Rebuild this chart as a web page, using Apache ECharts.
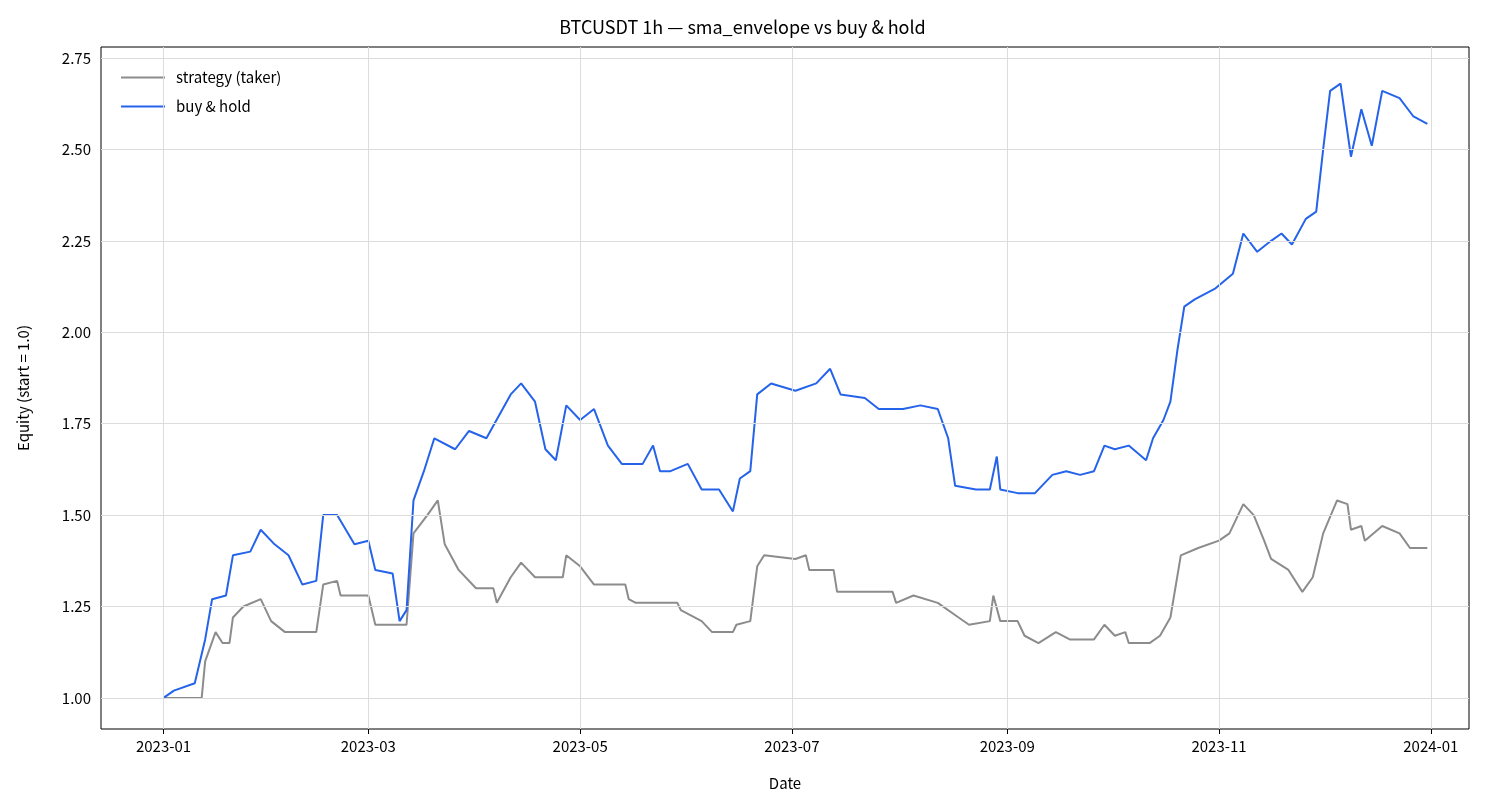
<!DOCTYPE html>
<html>
<head>
<meta charset="utf-8">
<script src="https://cdn.jsdelivr.net/npm/echarts@6/dist/echarts.min.js"></script>
<style>html,body{margin:0;padding:0;background:#fff}#chart{width:1485px;height:810px}</style>
</head>
<body>
<div id="chart"></div>
<script>
// 数据
var holdDates = ['2023-01-01','2023-01-04','2023-01-10','2023-01-13','2023-01-15','2023-01-19','2023-01-21','2023-01-26','2023-01-29','2023-02-02','2023-02-06','2023-02-10','2023-02-14','2023-02-16','2023-02-20','2023-02-25','2023-03-01','2023-03-03','2023-03-08','2023-03-10','2023-03-12','2023-03-14','2023-03-17','2023-03-20','2023-03-26','2023-03-30','2023-04-04','2023-04-11','2023-04-14','2023-04-18','2023-04-21','2023-04-24','2023-04-27','2023-05-01','2023-05-05','2023-05-09','2023-05-13','2023-05-19','2023-05-22','2023-05-24','2023-05-27','2023-06-01','2023-06-05','2023-06-10','2023-06-14','2023-06-16','2023-06-19','2023-06-21','2023-06-25','2023-07-02','2023-07-08','2023-07-12','2023-07-15','2023-07-22','2023-07-26','2023-08-02','2023-08-07','2023-08-12','2023-08-15','2023-08-17','2023-08-23','2023-08-27','2023-08-29','2023-08-30','2023-09-04','2023-09-09','2023-09-14','2023-09-18','2023-09-22','2023-09-26','2023-09-29','2023-10-02','2023-10-06','2023-10-11','2023-10-13','2023-10-16','2023-10-18','2023-10-20','2023-10-22','2023-10-25','2023-10-31','2023-11-05','2023-11-08','2023-11-12','2023-11-16','2023-11-19','2023-11-22','2023-11-26','2023-11-29','2023-12-01','2023-12-03','2023-12-06','2023-12-09','2023-12-12','2023-12-15','2023-12-18','2023-12-23','2023-12-27','2023-12-31'];
var holdValues = [1.00,1.02,1.04,1.16,1.27,1.28,1.39,1.40,1.46,1.42,1.39,1.31,1.32,1.50,1.50,1.42,1.43,1.35,1.34,1.21,1.24,1.54,1.62,1.71,1.68,1.73,1.71,1.83,1.86,1.81,1.68,1.65,1.80,1.76,1.79,1.69,1.64,1.64,1.69,1.62,1.62,1.64,1.57,1.57,1.51,1.60,1.62,1.83,1.86,1.84,1.86,1.90,1.83,1.82,1.79,1.79,1.80,1.79,1.71,1.58,1.57,1.57,1.66,1.57,1.56,1.56,1.61,1.62,1.61,1.62,1.69,1.68,1.69,1.65,1.71,1.76,1.81,1.95,2.07,2.09,2.12,2.16,2.27,2.22,2.25,2.27,2.24,2.31,2.33,2.50,2.66,2.68,2.48,2.61,2.51,2.66,2.64,2.59,2.57];

var stratDates = ['2023-01-01','2023-01-12','2023-01-13','2023-01-16','2023-01-18','2023-01-20','2023-01-21','2023-01-24','2023-01-29','2023-02-01','2023-02-05','2023-02-14','2023-02-16','2023-02-20','2023-02-21','2023-03-01','2023-03-03','2023-03-12','2023-03-14','2023-03-18','2023-03-21','2023-03-23','2023-03-27','2023-04-01','2023-04-06','2023-04-07','2023-04-11','2023-04-14','2023-04-18','2023-04-26','2023-04-27','2023-05-01','2023-05-05','2023-05-14','2023-05-15','2023-05-17','2023-05-29','2023-05-30','2023-06-05','2023-06-08','2023-06-14','2023-06-15','2023-06-19','2023-06-21','2023-06-23','2023-07-02','2023-07-05','2023-07-06','2023-07-13','2023-07-14','2023-07-30','2023-07-31','2023-08-05','2023-08-12','2023-08-18','2023-08-21','2023-08-27','2023-08-28','2023-08-30','2023-09-04','2023-09-06','2023-09-10','2023-09-15','2023-09-19','2023-09-26','2023-09-29','2023-10-02','2023-10-05','2023-10-06','2023-10-12','2023-10-15','2023-10-18','2023-10-21','2023-10-26','2023-11-01','2023-11-04','2023-11-08','2023-11-11','2023-11-14','2023-11-16','2023-11-21','2023-11-25','2023-11-28','2023-12-01','2023-12-05','2023-12-08','2023-12-09','2023-12-12','2023-12-13','2023-12-18','2023-12-23','2023-12-26','2023-12-31'];
var stratValues = [1.00,1.00,1.10,1.18,1.15,1.15,1.22,1.25,1.27,1.21,1.18,1.18,1.31,1.32,1.28,1.28,1.20,1.20,1.45,1.50,1.54,1.42,1.35,1.30,1.30,1.26,1.33,1.37,1.33,1.33,1.39,1.36,1.31,1.31,1.27,1.26,1.26,1.24,1.21,1.18,1.18,1.20,1.21,1.36,1.39,1.38,1.39,1.35,1.35,1.29,1.29,1.26,1.28,1.26,1.22,1.20,1.21,1.28,1.21,1.21,1.17,1.15,1.18,1.16,1.16,1.20,1.17,1.18,1.15,1.15,1.17,1.22,1.39,1.41,1.43,1.45,1.53,1.50,1.43,1.38,1.35,1.29,1.33,1.45,1.54,1.53,1.46,1.47,1.43,1.47,1.45,1.41,1.41];

var xTickLabels = ['2023-01','2023-03','2023-05','2023-07','2023-09','2023-11','2024-01'];
var yTicks = [1.00,1.25,1.50,1.75,2.00,2.25,2.50,2.75];

var t0 = Date.UTC(2023,0,1);
function toDay(s){ var p=s.split('-'); return (Date.UTC(+p[0],+p[1]-1,+(p[2]||1))-t0)/86400000; }
function pairs(d,v){ return d.map(function(s,i){ return [toDay(s), v[i]]; }); }
var xTicks = xTickLabels.map(toDay);
var labelMap = {};
xTicks.forEach(function(d,i){ labelMap[d]=xTickLabels[i]; });

var font = 'Noto Sans CJK KR, DejaVu Sans, sans-serif';
var gridStyle = {color:'#dcdcdc', width:1, type:'solid'};

var chart = echarts.init(document.getElementById('chart'));
var option = {
    animation:false,
    textStyle:{fontFamily:font},
    title:{text:'BTCUSDT 1h — sma_envelope vs buy & hold', left:'center', top:13,
        textStyle:{fontSize:18, fontWeight:'normal', color:'#000', fontFamily:font}},
    legend:{left:116, top:65, orient:'vertical', itemWidth:44, itemHeight:2, itemGap:14,
        icon:'rect', textStyle:{fontSize:15, color:'#000', padding:[0,0,0,6]},
        data:['strategy (taker)','buy & hold']},
    grid:{left:101, right:16, top:47, bottom:81, show:true, borderColor:'#000', borderWidth:1},
    xAxis:{type:'value', min:-18, max:376, name:'Date', nameLocation:'middle', nameGap:47,
        nameTextStyle:{fontSize:15, color:'#000'},
        axisLine:{show:false}, splitLine:{show:false},
        axisTick:{show:true, customValues:xTicks, length:5, lineStyle:{color:'#000'}},
        axisLabel:{customValues:xTicks, fontSize:15, color:'#000', margin:10,
            formatter:function(v){ return labelMap[v]||''; }}},
    yAxis:{type:'value', min:0.915, max:2.78, name:'Equity (start = 1.0)', nameLocation:'middle', nameGap:70,
        nameTextStyle:{fontSize:15, color:'#000'},
        axisLine:{show:false}, splitLine:{show:false},
        axisTick:{show:true, customValues:yTicks, length:5, lineStyle:{color:'#000'}},
        axisLabel:{customValues:yTicks, fontSize:15, color:'#000', margin:10,
            formatter:function(v){ return v.toFixed(2); }}},
    series:[
        {name:'strategy (taker)', type:'line', data:pairs(stratDates,stratValues), showSymbol:false,
            color:'#8c8c8c', lineStyle:{width:2}, z:3,
            markLine:{silent:true, symbol:'none', label:{show:false}, lineStyle:gridStyle, animation:false,
                data:xTicks.map(function(d){return {xAxis:d};}).concat(yTicks.map(function(v){return {yAxis:v};}))}},
        {name:'buy & hold', type:'line', data:pairs(holdDates,holdValues), showSymbol:false,
            color:'#2563eb', lineStyle:{width:2}, z:4}
    ]
};
chart.setOption(option);
</script>
</body>
</html>
